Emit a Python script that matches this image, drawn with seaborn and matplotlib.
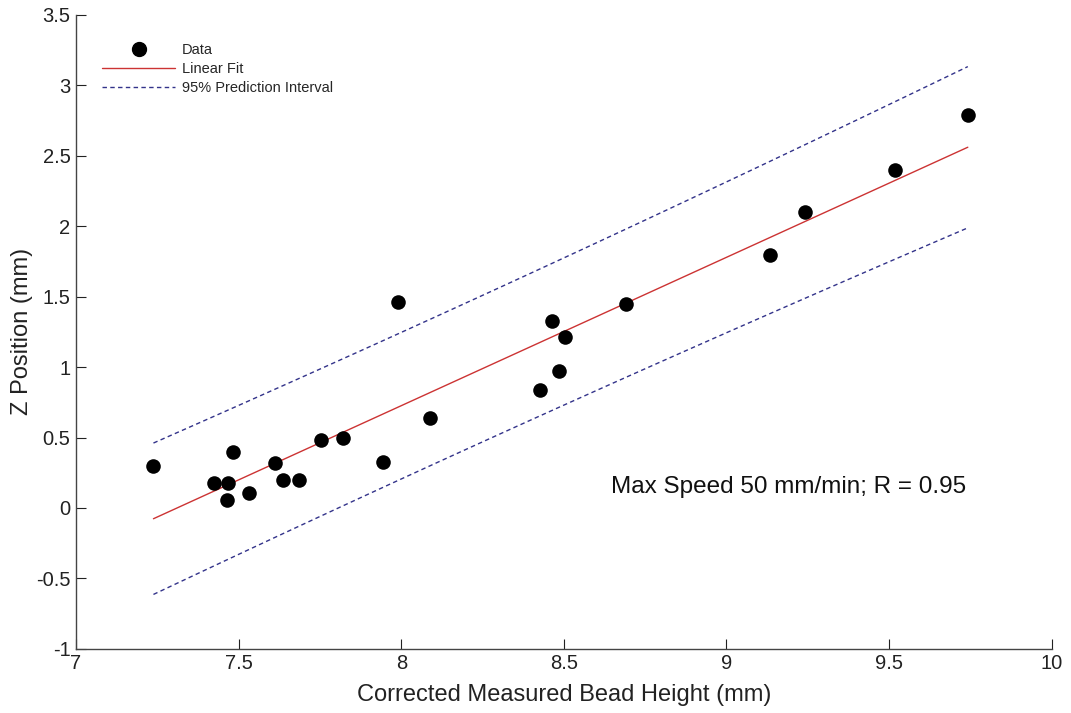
import numpy as np
import pandas as pd
import matplotlib
matplotlib.use("Agg")
import matplotlib.pyplot as plt
from matplotlib.lines import Line2D
import seaborn as sns

# Measured bead height vs. Z position
bead_height = [7.238, 7.424, 7.465, 7.468, 7.483, 7.533, 7.611, 7.637, 7.687,
               7.754, 7.820, 7.943, 7.990, 8.087, 8.428, 8.465, 8.484, 8.502,
               8.691, 9.134, 9.242, 9.519, 9.742]
z_position = [0.298, 0.180, 0.057, 0.175, 0.395, 0.104, 0.320, 0.199, 0.197,
              0.483, 0.499, 0.329, 1.462, 0.641, 0.837, 1.329, 0.974, 1.216,
              1.448, 1.798, 2.099, 2.399, 2.789]
annotation = "Max Speed 50 mm/min; R = 0.95"

x_ticks = [7, 7.5, 8, 8.5, 9, 9.5, 10]
y_ticks = [-1, -0.5, 0, 0.5, 1, 1.5, 2, 2.5, 3, 3.5]
x_tick_labels = ["7", "7.5", "8", "8.5", "9", "9.5", "10"]
y_tick_labels = ["-1", "-0.5", "0", "0.5", "1", "1.5", "2", "2.5", "3", "3.5"]

# Ordinary least squares fit with 95% prediction interval
x = np.asarray(bead_height)
y = np.asarray(z_position)
n = len(x)
slope, intercept = np.polyfit(x, y, 1)
resid = y - (slope * x + intercept)
s = np.sqrt(np.sum(resid ** 2) / (n - 2))
t_crit = 2.080  # Student t, 0.975 quantile, 21 dof
xg = np.linspace(x.min(), x.max(), 100)
yg = slope * xg + intercept
half = t_crit * s * np.sqrt(1 + 1 / n + (xg - x.mean()) ** 2 / np.sum((x - x.mean()) ** 2))
fit = pd.DataFrame({"x": xg, "fit": yg, "lo": yg - half, "hi": yg + half})
pts = pd.DataFrame({"x": x, "y": y})

sns.set_theme(style="white")
plt.rcParams["font.family"] = ["Liberation Sans", "DejaVu Sans"]

fig = plt.figure(figsize=(10.71, 7.13), dpi=100)
ax = fig.add_axes([0.071, 0.090, 0.911, 0.889])

red = "#cc3333"
navy = "#33338a"
dash = (0, (3.2, 2.4))
sns.lineplot(data=fit, x="x", y="hi", ax=ax, color=navy, lw=1.0, linestyle=dash)
sns.lineplot(data=fit, x="x", y="lo", ax=ax, color=navy, lw=1.0, linestyle=dash)
sns.lineplot(data=fit, x="x", y="fit", ax=ax, color=red, lw=1.0)
sns.scatterplot(data=pts, x="x", y="y", ax=ax, color="black", s=110,
                edgecolor="black", linewidth=0, zorder=5)

ax.set_xlim(7, 10)
ax.set_ylim(-1, 3.5)
ax.set_xticks(x_ticks)
ax.set_xticklabels(x_tick_labels)
ax.set_yticks(y_ticks)
ax.set_yticklabels(y_tick_labels)
ax.tick_params(direction="in", length=7, width=0.8, labelsize=14.5,
               colors="#222222", pad=4, bottom=True, left=True)
for side in ("top", "right"):
    ax.spines[side].set_visible(False)
for side in ("left", "bottom"):
    ax.spines[side].set_color("#444444")
    ax.spines[side].set_linewidth(1.0)

ax.set_xlabel("Corrected Measured Bead Height (mm)", fontsize=17, color="#222222", labelpad=8)
ax.set_ylabel("Z Position (mm)", fontsize=17, color="#222222", labelpad=2)

ax.text(9.19, 0.15, annotation, fontsize=17.5, color="#111111", ha="center", va="center")

handles = [
    Line2D([], [], marker="o", linestyle="none", color="black", markersize=10),
    Line2D([], [], color=red, lw=1.0),
    Line2D([], [], color=navy, lw=1.0, linestyle=dash),
]
ax.legend(handles, ["Data", "Linear Fit", "95% Prediction Interval"],
          loc="upper left", bbox_to_anchor=(0.021, 0.965), frameon=False,
          fontsize=10.5, handlelength=5.0, handletextpad=0.45,
          labelspacing=0.35, borderaxespad=0)

fig.savefig("out.png", dpi=100, facecolor="white")
